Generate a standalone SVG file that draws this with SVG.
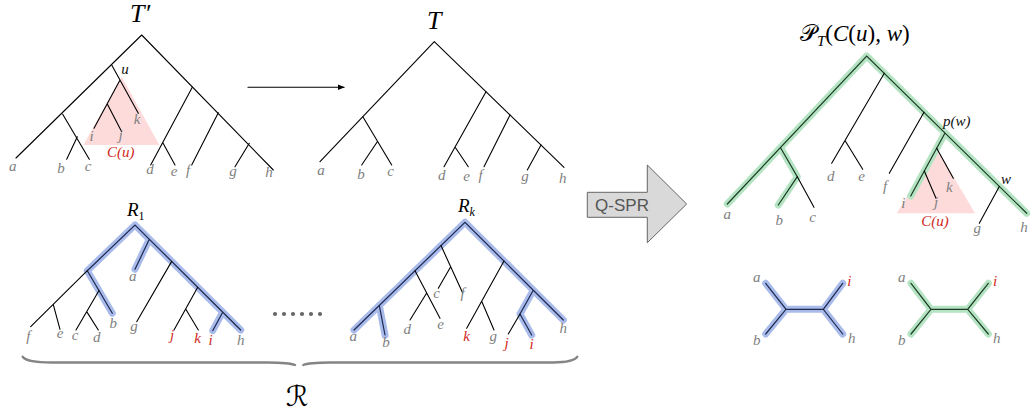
<svg xmlns="http://www.w3.org/2000/svg" width="1030" height="414" viewBox="0 0 1030 414">
<defs>
<style>
.e{stroke:#000;stroke-width:1.1;fill:none;stroke-linecap:round}
.hb{stroke:#a9bbea;stroke-width:7;fill:none;stroke-linecap:round;stroke-linejoin:round}
.lb{stroke:#1e2850;stroke-width:1.2;fill:none;stroke-linecap:round}
.hg{stroke:#b4e4c2;stroke-width:7;fill:none;stroke-linecap:round;stroke-linejoin:round}
.lg{stroke:#1c3a25;stroke-width:1.2;fill:none;stroke-linecap:round}
.l{font-family:"Liberation Serif",serif;font-style:italic;font-size:15px;fill:#7f7f7f;text-anchor:middle}
.r{fill:#d0281c}
.k{fill:#111}
.t{font-family:"Liberation Serif",serif;font-style:italic;fill:#000}
.tri{fill:#fbb8b8;fill-opacity:0.5}
.brace{stroke:#858585;stroke-width:2.4;fill:none;stroke-linecap:round}
</style>
<marker id="ah" viewBox="0 0 10 10" refX="9" refY="5" markerWidth="7" markerHeight="7" orient="auto" markerUnits="userSpaceOnUse">
<path d="M0,1 L10,5 L0,9 z" fill="#000"/>
</marker>
</defs>
<rect width="1030" height="414" fill="#fff"/>

<!-- T' tree -->
<g id="tree-Tprime">
<text class="t" x="140" y="22" font-size="26" text-anchor="middle">T′</text>
<polygon class="tri" points="121.7,76.7 83.3,145 159.3,145"/>
<g class="edges">
<path class="e" d="M141.7,35 L16,158 M141.7,35 L273.3,170"/>
<path class="e" d="M111.7,65 L138.3,113.3 M120,80 L94,128.3 M107.3,104 L121.7,131.7"/>
<path class="e" d="M62.7,114.3 L89.3,159.3 M77.3,136.7 L66.7,159.3"/>
<path class="e" d="M192.3,87.3 L150.7,165 M162.7,142.6 L175,165 M218.3,112.7 L191.7,165 M249.3,143.3 L235,166.7"/>
</g>
<text class="l k" x="125" y="74" font-size="12">u</text>
<text class="l" x="12.7" y="171">a</text>
<text class="l" x="61" y="173">b</text>
<text class="l" x="88" y="171">c</text>
<text class="l" x="150" y="174">d</text>
<text class="l" x="174" y="176">e</text>
<text class="l" x="188" y="175">f</text>
<text class="l" x="233" y="176">g</text>
<text class="l" x="269" y="177">h</text>
<text class="l" x="91.7" y="141">i</text>
<text class="l" x="120.7" y="140">j</text>
<text class="l" x="137" y="124">k</text>
<text class="l r" x="120.7" y="157" font-size="13">C(u)</text>
</g>

<g id="connectors">
<line class="e" x1="248" y1="87.3" x2="344" y2="87.3" marker-end="url(#ah)"/>
</g>

<!-- T tree -->
<g id="tree-T">
<text class="t" x="434.3" y="28.5" font-size="26" text-anchor="middle">T</text>
<path class="e" d="M434.3,41.7 L320,161.7 M434.3,41.7 L564,167.3"/>
<path class="e" d="M363,117 L391.7,165 M377.3,141.7 L361.7,165"/>
<path class="e" d="M486,91.8 L444,166.7 M455,147 L468.3,166.7 M510,115 L484,166.7 M541,145 L527.3,170"/>
<text class="l" x="321" y="175">a</text>
<text class="l" x="361" y="179">b</text>
<text class="l" x="390.7" y="176">c</text>
<text class="l" x="441.7" y="180">d</text>
<text class="l" x="466.7" y="181">e</text>
<text class="l" x="480.7" y="180">f</text>
<text class="l" x="525" y="181">g</text>
<text class="l" x="562.7" y="183">h</text>
</g>

<!-- R1 tree -->
<g id="tree-R1">
<text class="t" x="127" y="216" font-size="19">R<tspan font-size="12" font-style="normal" dy="4">1</tspan></text>
<path class="hb" d="M87.3,270.7 L135,225 L240.7,330 M87.3,270.7 L112.3,313.3 M149.3,239.2 L135,269.3 M222.7,312.2 L212.7,330.7"/>
<path class="lb" d="M87.3,270.7 L135,225 L240.7,330 M87.3,270.7 L112.3,313.3 M149.3,239.2 L135,269.3 M222.7,312.2 L212.7,330.7"/>
<path class="e" d="M87.3,270.7 L30.7,326.7 M53.3,304.7 L60,329.3"/>
<path class="e" d="M99,290.5 L76,330 M86.7,311.6 L98.3,330"/>
<path class="e" d="M171.7,261.4 L136.7,321.7 M197.7,287.3 L174,330 M185.7,309 L198.3,330"/>
<text class="l" x="28.3" y="341">f</text>
<text class="l" x="60" y="338">e</text>
<text class="l" x="75" y="340">c</text>
<text class="l" x="96.7" y="342">d</text>
<text class="l" x="113.3" y="328">b</text>
<text class="l" x="132.7" y="281">a</text>
<text class="l" x="134" y="331">g</text>
<text class="l r" x="172" y="340">j</text>
<text class="l r" x="197.7" y="343">k</text>
<text class="l r" x="210.7" y="345">i</text>
<text class="l" x="240.7" y="345">h</text>
</g>

<g id="ellipsis" fill="#666">
<circle cx="275" cy="314" r="2.1"/><circle cx="284" cy="314" r="2.1"/><circle cx="293" cy="314" r="2.1"/>
<circle cx="302" cy="314" r="2.1"/><circle cx="311" cy="314" r="2.1"/><circle cx="320" cy="314" r="2.1"/>
</g>

<!-- Rk tree -->
<g id="tree-Rk">
<text class="t" x="458" y="212" font-size="19">R<tspan font-size="12" dy="4">k</tspan></text>
<path class="hb" d="M354,330 L465,222.3 L563.3,320 M379.3,305.4 L385,335 M533.3,290.2 L520,314 L531.7,335"/>
<path class="lb" d="M354,330 L465,222.3 L563.3,320 M379.3,305.4 L385,335 M533.3,290.2 L520,314 L531.7,335"/>
<path class="e" d="M441,245.6 L462.7,293 M450.7,266.8 L438.3,288.3"/>
<path class="e" d="M415,270.8 L440,318.3 M426.7,293 L410,320"/>
<path class="e" d="M504,261.1 L466.7,328.3 M481.7,301.3 L494,330 M520,314 L508.3,334"/>
<text class="l" x="353.3" y="341">a</text>
<text class="l" x="386" y="347">b</text>
<text class="l" x="436.7" y="298">c</text>
<text class="l" x="462.7" y="298">f</text>
<text class="l" x="407.3" y="334">d</text>
<text class="l" x="440.7" y="329">e</text>
<text class="l r" x="466.7" y="341">k</text>
<text class="l" x="493.3" y="341">g</text>
<text class="l r" x="506.7" y="348">j</text>
<text class="l r" x="531.7" y="349">i</text>
<text class="l" x="563.3" y="333">h</text>
</g>

<g id="brace">
<path class="brace" d="M22.7,356.7 C26,361 34,362.4 52,362.5 L268,362.5 C284,362.6 291,363.4 295,365"/>
<path class="brace" d="M303.3,365 C307,363.4 314,362.6 330,362.5 L553,362.5 C569,362.4 575,360.5 577.3,356.7"/>
<text x="297" y="406" font-family="'DejaVu Serif','DejaVu Sans',serif" font-size="28" text-anchor="middle">ℛ</text>
</g>

<!-- Q-SPR arrow -->
<g id="qspr">
<polygon points="587.3,192.3 647.3,192.3 647.3,165 686.7,204 647.3,242.7 647.3,217.3 587.3,217.3" fill="#d9d9d9" stroke="#666" stroke-width="1"/>
<text x="622" y="211" font-family="'Liberation Sans',sans-serif" font-size="17" fill="#555" text-anchor="middle">Q-SPR</text>
</g>

<!-- P_T(C(u),w) tree -->
<g id="tree-P">
<text x="800" y="41" font-family="'DejaVu Serif','Noto Sans',serif" font-size="23" fill="#000">𝒫<tspan font-family="'Liberation Serif',serif" font-style="italic" font-size="15" dy="5">T</tspan><tspan font-family="'Liberation Serif',serif" dy="-5">(<tspan font-style="italic">C</tspan>(<tspan font-style="italic">u</tspan>), <tspan font-style="italic">w</tspan>)</tspan></text>
<polygon class="tri" points="936.7,148.2 896.7,213.3 975,213.3"/>
<path class="hg" d="M727.3,204 L866.7,56 L1026.7,213.3 M780.7,148 L797.3,176.7 L778.3,205 M945,133 L910.7,196"/>
<path class="lg" d="M727.3,204 L866.7,56 L1026.7,213.3 M780.7,148 L797.3,176.7 L778.3,205 M945,133 L910.7,196"/>
<path class="e" d="M797.3,176.7 L814,207.3"/>
<path class="e" d="M884.3,73.3 L831.7,163.3 M845,140.5 L862.7,169.3 M924,112.3 L889.3,173.3"/>
<path class="e" d="M936.7,148.2 L953.3,178.3 M924.3,171 L936,198.3 M999.3,186.4 L979.3,223.3"/>
<text class="l" x="727.3" y="219">a</text>
<text class="l" x="779.3" y="225">b</text>
<text class="l" x="812.7" y="222">c</text>
<text class="l" x="830.7" y="181">d</text>
<text class="l" x="861.7" y="181">e</text>
<text class="l" x="885" y="191">f</text>
<text class="l" x="903.3" y="208">i</text>
<text class="l" x="936" y="207">j</text>
<text class="l" x="949.3" y="192">k</text>
<text class="l" x="977.3" y="233">g</text>
<text class="l" x="1024" y="232">h</text>
<text class="l k" x="956.7" y="126" font-size="12">p(w)</text>
<text class="l k" x="1006" y="184" font-size="15">w</text>
<text class="l r" x="935" y="226" font-size="13">C(u)</text>
</g>

<!-- quartets -->
<g id="quartet-blue">
<path class="hb" d="M765.7,283.3 L786,309.3 L765.7,334 M786,309.3 L823.3,309.3 M842.7,283.3 L823.3,309.3 L842.7,334"/>
<path class="lb" d="M765.7,283.3 L786,309.3 L765.7,334 M786,309.3 L823.3,309.3 M842.7,283.3 L823.3,309.3 L842.7,334"/>
<text class="l" x="756.7" y="282">a</text>
<text class="l" x="756.7" y="345">b</text>
<text class="l r" x="849.3" y="286">i</text>
<text class="l" x="851.7" y="343">h</text>
</g>
<g id="quartet-green">
<path class="hg" d="M911,283.3 L931,309.3 L911,334 M931,309.3 L967.7,309.3 M988.3,283.3 L967.7,309.3 L988.3,334"/>
<path class="lg" d="M911,283.3 L931,309.3 L911,334 M931,309.3 L967.7,309.3 M988.3,283.3 L967.7,309.3 L988.3,334"/>
<text class="l" x="901.7" y="282">a</text>
<text class="l" x="901.7" y="345">b</text>
<text class="l r" x="995" y="286">i</text>
<text class="l" x="996.7" y="343">h</text>
</g>
</svg>
